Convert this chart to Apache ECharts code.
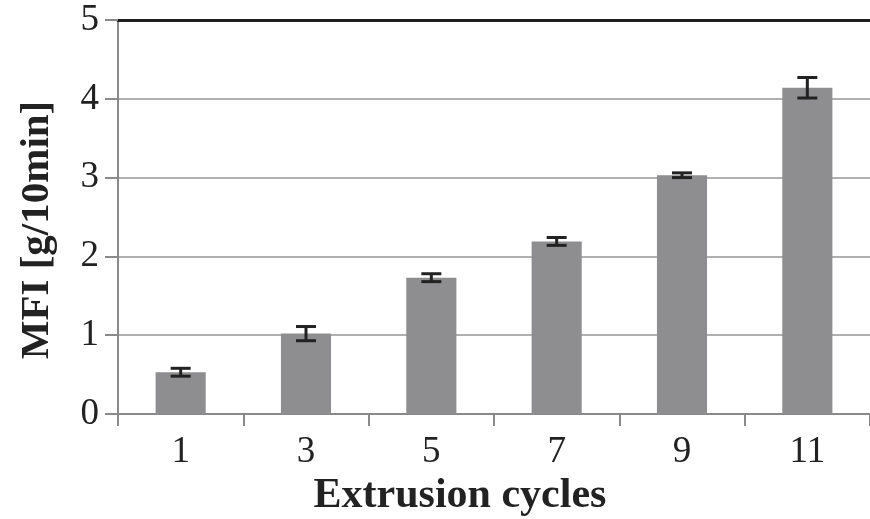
<!DOCTYPE html>
<html>
<head>
<meta charset="utf-8">
<script src="https://cdn.jsdelivr.net/npm/echarts@6/dist/echarts.min.js"></script>
<style>
  html, body {margin: 0; padding: 0; background: #fff;}
  #chart {width: 870px; height: 519px;}
</style>
</head>
<body>
<div id="chart"></div>
<script>
// extrusion cycles vs melt flow index
var cycles = ['1', '3', '5', '7', '9', '11'];
var mfiValues = [0.53, 1.02, 1.73, 2.19, 3.03, 4.14];
var mfiErrors = [0.05, 0.09, 0.05, 0.05, 0.03, 0.13];
var yTicks = [0, 1, 2, 3, 4, 5];

var serif = '"Liberation Serif", "DejaVu Serif", serif';
var myChart = echarts.init(document.getElementById('chart'));

var errData = cycles.map(function (c, i) {
    return [i, mfiValues[i] - mfiErrors[i], mfiValues[i] + mfiErrors[i]];
});

var option = {
    animation: false,
    grid: {left: 118, top: 20, bottom: 105, width: 762},
    xAxis: [{
        type: 'category',
        data: cycles,
        axisLine: {lineStyle: {color: '#8a8a8a', width: 2}},
        axisTick: {show: true, length: 12, lineStyle: {color: '#8a8a8a', width: 2}},
        axisLabel: {color: '#222', fontFamily: serif, fontSize: 37, margin: 20}
    }, {
        type: 'category',
        position: 'top',
        data: cycles,
        axisLine: {lineStyle: {color: '#1e1e1e', width: 3}},
        axisTick: {show: false},
        axisLabel: {show: false}
    }],
    yAxis: {
        type: 'value',
        min: yTicks[0],
        max: yTicks[yTicks.length - 1],
        interval: 1,
        axisLine: {show: true, lineStyle: {color: '#8a8a8a', width: 2}},
        axisTick: {show: true, length: 13, lineStyle: {color: '#8a8a8a', width: 2}},
        axisLabel: {color: '#222', fontFamily: serif, fontSize: 37, margin: 19},
        splitLine: {lineStyle: {color: '#b0b0b0', width: 2}}
    },
    graphic: [{
        type: 'text',
        x: 37,
        y: 230,
        rotation: Math.PI / 2,
        style: {
            text: 'MFI [g/10min]',
            font: 'bold 41px ' + serif,
            fill: '#222',
            align: 'center',
            verticalAlign: 'middle'
        }
    }, {
        type: 'text',
        x: 460,
        y: 496,
        style: {
            text: 'Extrusion cycles',
            font: 'bold 42px ' + serif,
            fill: '#222',
            align: 'center',
            verticalAlign: 'middle'
        }
    }],
    series: [{
        type: 'bar',
        data: mfiValues,
        barWidth: '40%',
        itemStyle: {color: '#8e8e90'}
    }, {
        type: 'custom',
        data: errData,
        z: 5,
        renderItem: function (params, api) {
            var lo = api.coord([api.value(0), api.value(1)]);
            var hi = api.coord([api.value(0), api.value(2)]);
            var w = 10;
            var st = {stroke: '#222', lineWidth: 3};
            return {
                type: 'group',
                children: [
                    {type: 'line', shape: {x1: lo[0], y1: lo[1], x2: hi[0], y2: hi[1]}, style: st},
                    {type: 'line', shape: {x1: lo[0] - w, y1: lo[1], x2: lo[0] + w, y2: lo[1]}, style: st},
                    {type: 'line', shape: {x1: hi[0] - w, y1: hi[1], x2: hi[0] + w, y2: hi[1]}, style: st}
                ]
            };
        }
    }]
};

myChart.setOption(option);
</script>
</body>
</html>
